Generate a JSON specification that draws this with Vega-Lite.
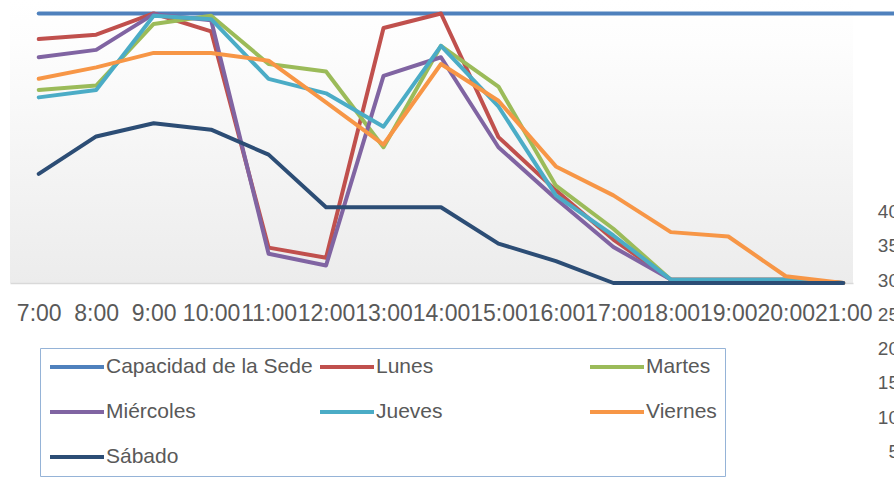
{
  "$schema": "https://vega.github.io/schema/vega-lite/v6.json",
  "width": 843,
  "height": 283,
  "autosize": {"type": "none"},
  "padding": {"left": 10, "top": 0, "right": 41, "bottom": 194},
  "background": "white",
  "config": {
    "font": "Liberation Sans",
    "view": {
      "stroke": null,
      "fill": {
        "gradient": "linear",
        "x1": 0, "y1": 0, "x2": 0, "y2": 1,
        "stops": [
          {"offset": 0, "color": "#ffffff"},
          {"offset": 0.15, "color": "#fdfdfd"},
          {"offset": 1, "color": "#ececec"}
        ]
      }
    }
  },
  "datasets": {
    "ocupacion": [
      {"serie": "Capacidad de la Sede", "hora": 7, "personas": 80},
      {"serie": "Capacidad de la Sede", "hora": 8, "personas": 80},
      {"serie": "Capacidad de la Sede", "hora": 9, "personas": 80},
      {"serie": "Capacidad de la Sede", "hora": 10, "personas": 80},
      {"serie": "Capacidad de la Sede", "hora": 11, "personas": 80},
      {"serie": "Capacidad de la Sede", "hora": 12, "personas": 80},
      {"serie": "Capacidad de la Sede", "hora": 13, "personas": 80},
      {"serie": "Capacidad de la Sede", "hora": 14, "personas": 80},
      {"serie": "Capacidad de la Sede", "hora": 15, "personas": 80},
      {"serie": "Capacidad de la Sede", "hora": 16, "personas": 80},
      {"serie": "Capacidad de la Sede", "hora": 17, "personas": 80},
      {"serie": "Capacidad de la Sede", "hora": 18, "personas": 80},
      {"serie": "Capacidad de la Sede", "hora": 19, "personas": 80},
      {"serie": "Capacidad de la Sede", "hora": 20, "personas": 80},
      {"serie": "Capacidad de la Sede", "hora": 21, "personas": 80},
      {"serie": "Capacidad de la Sede", "hora": 22, "personas": 80},
      {"serie": "Lunes", "hora": 7, "personas": 72.4},
      {"serie": "Lunes", "hora": 8, "personas": 73.7},
      {"serie": "Lunes", "hora": 9, "personas": 80},
      {"serie": "Lunes", "hora": 10, "personas": 74.7},
      {"serie": "Lunes", "hora": 11, "personas": 10.5},
      {"serie": "Lunes", "hora": 12, "personas": 7.5},
      {"serie": "Lunes", "hora": 13, "personas": 75.7},
      {"serie": "Lunes", "hora": 14, "personas": 80},
      {"serie": "Lunes", "hora": 15, "personas": 43.3},
      {"serie": "Lunes", "hora": 16, "personas": 27.5},
      {"serie": "Lunes", "hora": 17, "personas": 12.9},
      {"serie": "Lunes", "hora": 18, "personas": 1},
      {"serie": "Lunes", "hora": 19, "personas": 1},
      {"serie": "Lunes", "hora": 20, "personas": 1},
      {"serie": "Lunes", "hora": 21, "personas": 0},
      {"serie": "Martes", "hora": 7, "personas": 57.3},
      {"serie": "Martes", "hora": 8, "personas": 58.6},
      {"serie": "Martes", "hora": 9, "personas": 76.9},
      {"serie": "Martes", "hora": 10, "personas": 79.3},
      {"serie": "Martes", "hora": 11, "personas": 65},
      {"serie": "Martes", "hora": 12, "personas": 62.8},
      {"serie": "Martes", "hora": 13, "personas": 40.3},
      {"serie": "Martes", "hora": 14, "personas": 70.4},
      {"serie": "Martes", "hora": 15, "personas": 58.3},
      {"serie": "Martes", "hora": 16, "personas": 28.9},
      {"serie": "Martes", "hora": 17, "personas": 16.1},
      {"serie": "Martes", "hora": 18, "personas": 1},
      {"serie": "Martes", "hora": 19, "personas": 1},
      {"serie": "Martes", "hora": 20, "personas": 1},
      {"serie": "Martes", "hora": 21, "personas": 0},
      {"serie": "Miércoles", "hora": 7, "personas": 67},
      {"serie": "Miércoles", "hora": 8, "personas": 69.2},
      {"serie": "Miércoles", "hora": 9, "personas": 79.8},
      {"serie": "Miércoles", "hora": 10, "personas": 78},
      {"serie": "Miércoles", "hora": 11, "personas": 8.7},
      {"serie": "Miércoles", "hora": 12, "personas": 5.2},
      {"serie": "Miércoles", "hora": 13, "personas": 61.5},
      {"serie": "Miércoles", "hora": 14, "personas": 67},
      {"serie": "Miércoles", "hora": 15, "personas": 40.3},
      {"serie": "Miércoles", "hora": 16, "personas": 25},
      {"serie": "Miércoles", "hora": 17, "personas": 10.7},
      {"serie": "Miércoles", "hora": 18, "personas": 1},
      {"serie": "Miércoles", "hora": 19, "personas": 1},
      {"serie": "Miércoles", "hora": 20, "personas": 1},
      {"serie": "Miércoles", "hora": 21, "personas": 0},
      {"serie": "Jueves", "hora": 7, "personas": 55.1},
      {"serie": "Jueves", "hora": 8, "personas": 57.3},
      {"serie": "Jueves", "hora": 9, "personas": 79.3},
      {"serie": "Jueves", "hora": 10, "personas": 78.3},
      {"serie": "Jueves", "hora": 11, "personas": 60.6},
      {"serie": "Jueves", "hora": 12, "personas": 56.3},
      {"serie": "Jueves", "hora": 13, "personas": 46.4},
      {"serie": "Jueves", "hora": 14, "personas": 70.4},
      {"serie": "Jueves", "hora": 15, "personas": 52.4},
      {"serie": "Jueves", "hora": 16, "personas": 26},
      {"serie": "Jueves", "hora": 17, "personas": 14.1},
      {"serie": "Jueves", "hora": 18, "personas": 1},
      {"serie": "Jueves", "hora": 19, "personas": 1},
      {"serie": "Jueves", "hora": 20, "personas": 1},
      {"serie": "Jueves", "hora": 21, "personas": 0},
      {"serie": "Viernes", "hora": 7, "personas": 60.6},
      {"serie": "Viernes", "hora": 8, "personas": 64},
      {"serie": "Viernes", "hora": 9, "personas": 68.3},
      {"serie": "Viernes", "hora": 10, "personas": 68.3},
      {"serie": "Viernes", "hora": 11, "personas": 66},
      {"serie": "Viernes", "hora": 12, "personas": 53.6},
      {"serie": "Viernes", "hora": 13, "personas": 41.1},
      {"serie": "Viernes", "hora": 14, "personas": 65},
      {"serie": "Viernes", "hora": 15, "personas": 54.1},
      {"serie": "Viernes", "hora": 16, "personas": 34.6},
      {"serie": "Viernes", "hora": 17, "personas": 26},
      {"serie": "Viernes", "hora": 18, "personas": 15.1},
      {"serie": "Viernes", "hora": 19, "personas": 13.8},
      {"serie": "Viernes", "hora": 20, "personas": 2},
      {"serie": "Viernes", "hora": 21, "personas": 0},
      {"serie": "Sábado", "hora": 7, "personas": 32.4},
      {"serie": "Sábado", "hora": 8, "personas": 43.5},
      {"serie": "Sábado", "hora": 9, "personas": 47.4},
      {"serie": "Sábado", "hora": 10, "personas": 45.5},
      {"serie": "Sábado", "hora": 11, "personas": 38.1},
      {"serie": "Sábado", "hora": 12, "personas": 22.5},
      {"serie": "Sábado", "hora": 13, "personas": 22.5},
      {"serie": "Sábado", "hora": 14, "personas": 22.5},
      {"serie": "Sábado", "hora": 15, "personas": 11.7},
      {"serie": "Sábado", "hora": 16, "personas": 6.5},
      {"serie": "Sábado", "hora": 17, "personas": 0},
      {"serie": "Sábado", "hora": 18, "personas": 0},
      {"serie": "Sábado", "hora": 19, "personas": 0},
      {"serie": "Sábado", "hora": 20, "personas": 0},
      {"serie": "Sábado", "hora": 21, "personas": 0}
    ],
    "escala": [
      {"valor": 5}, {"valor": 10}, {"valor": 15}, {"valor": 20},
      {"valor": 25}, {"valor": 30}, {"valor": 35}, {"valor": 40}
    ]
  },
  "layer": [
    {
      "data": {"name": "ocupacion"},
      "mark": {"type": "line", "strokeWidth": 4, "strokeCap": "round", "strokeJoin": "round"},
      "encoding": {
        "x": {
          "field": "hora",
          "type": "quantitative",
          "scale": {"domain": [6.5, 21.17], "nice": false, "zero": false},
          "axis": {
            "values": [7, 8, 9, 10, 11, 12, 13, 14, 15, 16, 17, 18, 19, 20, 21],
            "labelExpr": "datum.value + ':00'",
            "title": null,
            "ticks": false,
            "grid": false,
            "domainColor": "#d9d9d9",
            "domainWidth": 1.5,
            "labelFontSize": 23,
            "labelColor": "#595959",
            "labelPadding": 19,
            "labelFlush": false,
            "labelOverlap": false,
            "labelBound": false
          }
        },
        "y": {
          "field": "personas",
          "type": "quantitative",
          "scale": {"domain": [0, 84], "nice": false},
          "axis": null
        },
        "color": {
          "field": "serie",
          "type": "nominal",
          "scale": {
            "domain": ["Capacidad de la Sede", "Lunes", "Martes", "Miércoles", "Jueves", "Viernes", "Sábado"],
            "range": ["#4f81bd", "#c0504d", "#9bbb59", "#8064a2", "#4bacc6", "#f79646", "#2c4d75"]
          },
          "legend": {
            "orient": "none",
            "legendX": 30,
            "legendY": 348,
            "direction": "horizontal",
            "columns": 3,
            "gridAlign": "all",
            "title": null,
            "symbolType": "stroke",
            "symbolSize": 2916,
            "symbolStrokeWidth": 4,
            "clipHeight": 22,
            "labelFontSize": 21,
            "labelColor": "#595959",
            "labelOffset": 0,
            "labelLimit": 400,
            "columnPadding": 5,
            "rowPadding": 23,
            "padding": 8,
            "strokeColor": "#95b3d7"
          }
        }
      }
    },
    {
      "data": {"name": "escala"},
      "mark": {"type": "text", "align": "right", "baseline": "middle", "fontSize": 19, "color": "#595959"},
      "encoding": {
        "x": {"datum": 21.97, "type": "quantitative", "scale": {"domain": [6.5, 21.17], "nice": false, "zero": false}},
        "y": {
          "field": "valor",
          "type": "quantitative",
          "scale": {"domain": [29.65, 70.92], "nice": false, "zero": false},
          "axis": null
        },
        "text": {"field": "valor", "type": "quantitative"}
      }
    }
  ],
  "resolve": {"scale": {"y": "independent"}}
}
